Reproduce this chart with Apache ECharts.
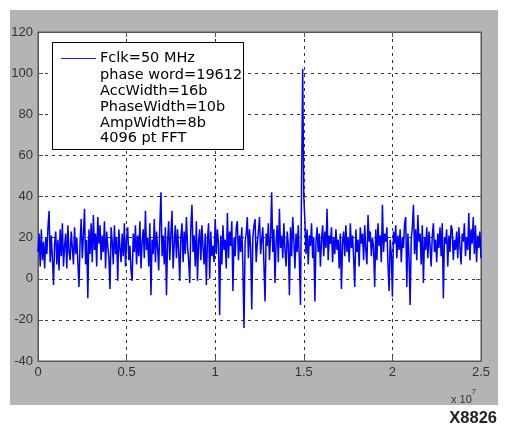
<!DOCTYPE html>
<html>
<head>
<meta charset="utf-8">
<script src="https://cdn.jsdelivr.net/npm/echarts@6/dist/echarts.min.js"></script>
<style>
html,body{margin:0;padding:0;background:#fff;}
#chart{width:508px;height:426px;}
</style>
</head>
<body>
<div id="chart"></div>
<script>
// FFT bin spacing (Hz) for the plotted spectrum
const binHz = 62500;
// Spectrum magnitude per bin (dB)
const mag = [
  13, 22, 6, 24, 9, 18, 5, 20, 12, 25, 33, 8, 21, 10, -3, 17, 23, 7, 19, 4,
  24, 11, 27, 6, 16, 22, 5, 26, 13, 9, 23, 15, 7, 25, 12, 20, 8, -4, 18, 29,
  10, 21, 34, 7, 19, -9.5, 24, 12, 27, 8, 31, 14, 22, 6, 30, 17, 26, 9, 21, 13,
  28, 5, 23, 16, 10, -5, 25, 18, 7, 26, 12, 20, -1, 24, 15, 8, 22, 11, 27, 6,
  19, 25, 9, 16, 4, -1, 22, 13, 26, 7, 21, 11, 28, 5, 18, 24, 10, 33, 14, 20,
  6, 27, -8, 19, 12, 29, 8, 23, 15, 4, 26, 42, 11, 21, 7, 25, -8, 18, 28, 9,
  22, 33, 5, 17, 26, 10, 24, 14, -1, 20, 27, 8, 23, 12, 30, 16, 9, -2, 25, 36,
  13, 21, 6, 28, -1, 18, 24, 9, 26, 15, 7, 22, -3, 19, 27, 0, 23, 11, 16, 8,
  29, 12, 24, 17, -17.6, 21, 7, 26, 14, 19, 5, 32, 10, 23, 16, 28, -6, 20, 11, 25,
  28, 9, 21, 13, 25, 6, -24, 18, 22, 30, 10, 24, 15, -15, 20, 26, 29, 8, 17, 23,
  30, 12, 19, 25, 7, -11, 22, 16, 27, 9, 20, 42, 13, 24, -2, 18, 26, 8, 34, 15,
  21, 10, 27, 14, 6, 23, 17, -8, 25, 11, 30, 19, 5, 22, 13, 26, 9, -12.8, 47, 102,
  40, 28, 12, 24, 7, 21, 16, 27, 10, 20, -11, 18, 25, 13, 22, 6, 19, 26, 11, 23,
  15, 34, 9, 21, 17, 25, 8, 20, 12, 24, 14, 19, 5, 22, -5, 18, 23, 11, 26, 13,
  20, 8, 27, 15, 21, 10, -4, 24, 13, 19, 6, 25, 17, 22, 9, 26, 14, 7, 31, 18,
  23, 11, 20, 15, -4, 24, 9, 27, 16, 21, 8, 36, 13, 22, 18, 25, 7, -6, 19, 12,
  -8.7, 23, 17, 26, 10, 21, 14, 24, 8, 20, 15, 27, 30, -4, 22, 11, -12.7, 19, 25, 36,
  12, 24, 9, 31, 18, 22, 7, 26, -2, 20, 14, 25, 10, 23, 16, 6, 21, 27, 13, 19,
  8, 22, 15, 25, 11, 27, -9.5, 20, 17, 24, 6, 21, 13, 26, 24, 9, 19, 14, 23, 10,
  25, 16, 7, 22, 18, 27, 11, 20, 14, 32, 9, 24, 17, 30, 12, 26, 8, 21, 15, 23,
  10
];
const seriesName = 'Fclk=50 MHz';
const legendLines = ['phase word=19612', 'AccWidth=16b', 'PhaseWidth=10b', 'AmpWidth=8b', '4096 pt FFT'];
const xTickLabels = ['0', '0.5', '1', '1.5', '2', '2.5'];
const yTickLabels = ['-40', '-20', '0', '20', '40', '60', '80', '100', '120'];

const points = mag.map((v, i) => [i * binHz, v]);
const font = '"Liberation Sans", Arial, sans-serif';
const legFont = '"DejaVu Sans", sans-serif';
const axisCol = '#555';
const gridLine = { show: true, lineStyle: { color: '#333', type: [3, 4], width: 1 } };

const chart = echarts.init(document.getElementById('chart'), null, { renderer: 'canvas' });
chart.setOption({
  animation: false,
  backgroundColor: '#fff',
  textStyle: { fontFamily: font },
  grid: { left: 38, right: 27, top: 32, bottom: 65, show: true, backgroundColor: '#fff', borderColor: '#555', borderWidth: 1, z: 0 },
  xAxis: [{
    type: 'value', min: 0, max: 25000000, interval: 5000000,
    axisLine: { show: true, onZero: false, lineStyle: { color: axisCol } },
    axisTick: { show: true, inside: true, length: 5, lineStyle: { color: axisCol } },
    axisLabel: { color: '#333', fontSize: 13, fontFamily: font, margin: 5,
      formatter: (v) => xTickLabels[Math.round(v / 5000000)] },
    splitLine: gridLine
  }, {
    type: 'value', position: 'top', min: 0, max: 25000000, interval: 5000000,
    axisLine: { show: true, onZero: false, lineStyle: { color: axisCol } },
    axisTick: { show: true, inside: true, length: 5, lineStyle: { color: axisCol } },
    axisLabel: { show: false }, splitLine: { show: false }
  }],
  yAxis: [{
    type: 'value', min: -40, max: 120, interval: 20,
    axisLine: { show: true, onZero: false, lineStyle: { color: axisCol } },
    axisTick: { show: true, inside: true, length: 5, lineStyle: { color: axisCol } },
    axisLabel: { color: '#333', fontSize: 13, fontFamily: font, margin: 5,
      formatter: (v) => yTickLabels[Math.round((v + 40) / 20)] },
    splitLine: gridLine
  }, {
    type: 'value', position: 'right', min: -40, max: 120, interval: 20,
    axisLine: { show: true, onZero: false, lineStyle: { color: axisCol } },
    axisTick: { show: true, inside: true, length: 5, lineStyle: { color: axisCol } },
    axisLabel: { show: false }, splitLine: { show: false }
  }],
  legend: {
    show: true, left: 61, top: 51, z: 60, padding: 0,
    data: [{ name: seriesName, icon: 'rect' }],
    itemWidth: 35, itemHeight: 1, itemGap: 0,
    textStyle: { fontSize: 14.5, color: '#000', fontFamily: legFont, padding: [0, 0, 0, -1] },
    selectedMode: false
  },
  series: [{
    name: seriesName, type: 'line', data: points,
    showSymbol: false, symbol: 'none', sampling: null,
    lineStyle: { color: '#0000ff', width: 1.5 }, itemStyle: { color: '#2020ff' },
    z: 3
  }],
  graphic: [
    { type: 'rect', z: -100, silent: true, shape: { x: 10, y: 10, width: 488, height: 395 }, style: { fill: '#b4b4b4' } },
    { type: 'rect', z: 50, silent: true, shape: { x: 52.5, y: 42.5, width: 191, height: 107 }, style: { fill: '#fff', stroke: '#000', lineWidth: 1 } },
    ...legendLines.map((t, k) => ({
      type: 'text', z: 51, silent: true, left: 100, top: 68 + k * 15.8,
      style: { text: t, font: '14.5px ' + legFont, fill: '#000' }
    })),
    { type: 'text', z: 51, silent: true, left: 451, top: 388,
      style: { rich: { a: { fontSize: 11, fontFamily: font, fill: '#333', padding: [6, 0, 0, 0] }, s: { fontSize: 8, fontFamily: font, fill: '#333', verticalAlign: 'top' } },
        text: '{a|x 10}{s|7}' } },
    { type: 'text', z: 51, silent: true, right: 11, top: 410,
      style: { text: 'X8826', font: 'bold 16.5px ' + font, fill: '#222' } }
  ]
});
</script>
</body>
</html>
